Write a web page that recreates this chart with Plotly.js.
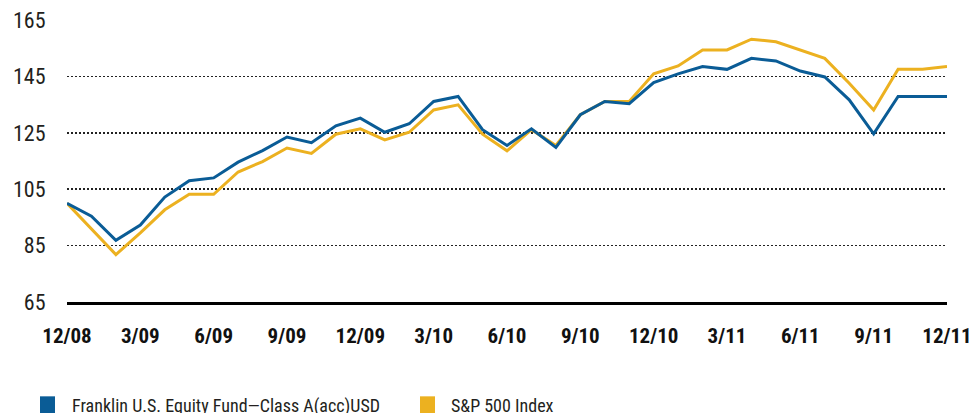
<!DOCTYPE html>
<html>
<head>
<meta charset="utf-8">
<script src="https://cdn.plot.ly/plotly-3.0.1.min.js"></script>
<style>
html,body{margin:0;padding:0;background:#fff;}
#chart{width:972px;height:413px;}
</style>
</head>
<body>
<div id="chart"></div>
<script>
const months = ["12/08","1/09","2/09","3/09","4/09","5/09","6/09","7/09","8/09","9/09","10/09","11/09",
  "12/09","1/10","2/10","3/10","4/10","5/10","6/10","7/10","8/10","9/10","10/10","11/10",
  "12/10","1/11","2/11","3/11","4/11","5/11","6/11","7/11","8/11","9/11","10/11","11/11","12/11"];
const franklin = [100,95.4,86.9,92.3,102.2,108,109,114.6,118.7,123.5,121.5,127.5,
  130.2,125.2,128.2,136.1,137.9,126.1,120.5,126.4,119.8,131.4,136.1,135.3,
  142.8,145.9,148.5,147.5,151.4,150.5,146.9,144.8,136.7,124.6,137.9,137.9,137.9];
const sp500 = [100,91,81.8,89.5,97.7,103.2,103.2,111.1,114.8,119.6,117.7,124.5,
  126.4,122.5,125.2,133.1,134.9,124.5,118.6,126.1,120.5,131.4,136.1,136.1,
  145.9,148.7,154.4,154.4,158.2,157.3,154.4,151.4,142.6,133.1,147.5,147.5,148.5];
const tickLabels = ["12/08","3/09","6/09","9/09","12/09","3/10","6/10","9/10","12/10","3/11","6/11","9/11","12/11"];
const yTicks = [65,85,105,125,145,165];
const seriesNames = ["Franklin U.S. Equity Fund\u2014Class A(acc)USD","S&P 500 Index"];

const BLUE = "#0a5c96", GOLD = "#ecb120";
const FONT = "'Roboto Condensed','DejaVu Sans Condensed',sans-serif";

// plot-area geometry (pixels) used to place the legend items
const W = 972, H = 413, ML = 67, MR = 25, MT = 20, MB = 110.5;
const PW = W - ML - MR, PH = H - MT - MB;
const px = v => (v - ML) / PW;
const py = v => (H - MB - v) / PH;

const traces = [
  {x: months, y: sp500, type: "scatter", mode: "lines", name: seriesNames[1], line: {color: GOLD, width: 3}, hoverinfo: "skip"},
  {x: months, y: franklin, type: "scatter", mode: "lines", name: seriesNames[0], line: {color: BLUE, width: 3}, hoverinfo: "skip"}
];

const legendItems = [
  {name: seriesNames[0], color: BLUE, sq: 40, tx: 70},
  {name: seriesNames[1], color: GOLD, sq: 420, tx: 449}
];

const layout = {
  width: W, height: H,
  margin: {l: ML, r: MR, t: MT, b: MB, pad: 0},
  paper_bgcolor: "#fff", plot_bgcolor: "#fff",
  font: {family: FONT, color: "#231f20", size: 20},
  showlegend: false,
  xaxis: {
    type: "category", range: [0, 36], tickmode: "array", tickvals: tickLabels, ticktext: tickLabels,
    showgrid: false, zeroline: false, showline: true, linecolor: "#000", linewidth: 3,
    ticks: "outside", ticklen: 13, tickcolor: "rgba(0,0,0,0)",
    tickfont: {family: FONT, size: 21, color: "#111", weight: "bold"}, fixedrange: true
  },
  yaxis: {
    range: [65, 165], tickmode: "array", tickvals: yTicks,
    showgrid: true, gridcolor: "#222", gridwidth: 1.5, griddash: "1.5px,2.5px",
    zeroline: false, showline: false,
    ticks: "outside", ticklen: 16, tickcolor: "rgba(0,0,0,0)",
    tickfont: {family: FONT, size: 22, color: "#231f20"}, fixedrange: true
  },
  shapes: legendItems.map(it => ({
    type: "rect", xref: "paper", yref: "paper",
    x0: px(it.sq), x1: px(it.sq + 15), y0: py(397), y1: py(414),
    fillcolor: it.color, line: {width: 0}
  })),
  annotations: legendItems.map(it => ({
    xref: "paper", yref: "paper", x: px(it.tx), y: py(394), xanchor: "left", yanchor: "top",
    text: it.name, showarrow: false, font: {family: FONT, size: 18, color: "#231f20"}
  }))
};

Plotly.newPlot("chart", traces, layout, {staticPlot: true, displayModeBar: false});
</script>
</body>
</html>
